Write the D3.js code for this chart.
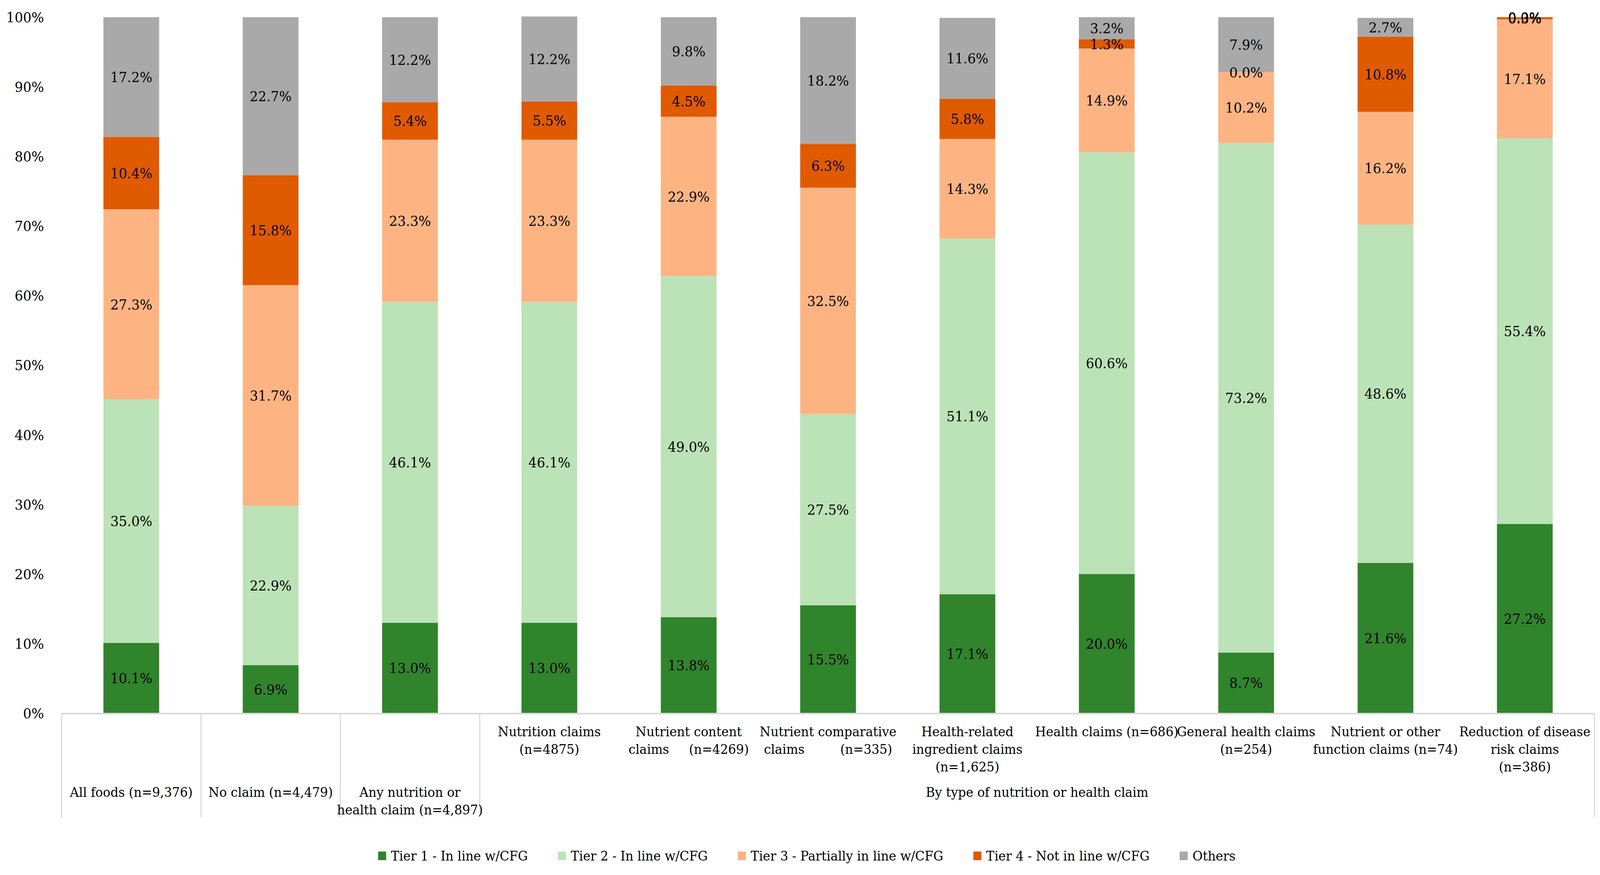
<!DOCTYPE html>
<html lang="en">
  <head>
    <meta charset="utf-8">
    <title>Tiers by claim type</title>
    <script src="https://cdn.jsdelivr.net/npm/d3@7"></script>
    <style>
      html, body { margin: 0; padding: 0; background: #fff; overflow: hidden; }
      svg { display: block; width: 100vw; height: 100vh; }
      text { font-family: "DejaVu Serif", serif; fill: #000; }
    </style>
  </head>
  <body>
    <script>

      // categories (lines of the lower axis label)
      var categories = ["all", "none", "any", "nutr", "content", "compar", "ingred", "health", "general", "function", "risk"];
      var catLines = [
        ["All foods (n=9,376)"],
        ["No claim (n=4,479)"],
        ["Any nutrition or", "health claim (n=4,897)"],
        ["Nutrition claims", "(n=4875)"],
        ["Nutrient content", "claims     (n=4269)"],
        ["Nutrient comparative", "claims         (n=335)"],
        ["Health-related", "ingredient claims", "(n=1,625)"],
        ["Health claims (n=686)"],
        ["General health claims", "(n=254)"],
        ["Nutrient or other", "function claims (n=74)"],
        ["Reduction of disease", "risk claims", "(n=386)"]
      ];
      var groupLabel = "By type of nutrition or health claim";

      var seriesNames = ["Tier 1 - In line w/CFG", "Tier 2 - In line w/CFG", "Tier 3 - Partially in line w/CFG", "Tier 4 - Not in line w/CFG", "Others"];
      var seriesColors = ["#30842b", "#bce2b7", "#feb482", "#e05a00", "#a9a9a9"];

      var tier1  = [10.1,  6.9, 13.0, 13.0, 13.8, 15.5, 17.1, 20.0,  8.7, 21.6, 27.2];
      var tier2  = [35.0, 22.9, 46.1, 46.1, 49.0, 27.5, 51.1, 60.6, 73.2, 48.6, 55.4];
      var tier3  = [27.3, 31.7, 23.3, 23.3, 22.9, 32.5, 14.3, 14.9, 10.2, 16.2, 17.1];
      var tier4  = [10.4, 15.8,  5.4,  5.5,  4.5,  6.3,  5.8,  1.3,  0.0, 10.8,  0.3];
      var others = [17.2, 22.7, 12.2, 12.2,  9.8, 18.2, 11.6,  3.2,  7.9,  2.7,  0.0];

      var yTicks = [0, 10, 20, 30, 40, 50, 60, 70, 80, 90, 100];

      var W = 4363, H = 2239;
      var plotL = 168, plotR = 4348, plotT = 44, plotB = 1825;

      var rows = categories.map(function(c, i) {
        return { cat: c, s0: tier1[i], s1: tier2[i], s2: tier3[i], s3: tier4[i], s4: others[i] };
      });
      var keys = ["s0", "s1", "s2", "s3", "s4"];
      var stacked = d3.stack().keys(keys)(rows);

      var svg = d3.select("body").append("svg")
                  .attr("viewBox", "0 0 " + W + " " + H)
                  .attr("preserveAspectRatio", "none");

      var x = d3.scaleBand().domain(categories).range([plotL, plotR])
                .paddingInner(0.6).paddingOuter(0.3);
      var y = d3.scaleLinear().domain([0, 100]).range([plotB, plotT]);

      // y tick labels
      svg.append("g").selectAll("text")
         .data(yTicks)
         .enter().append("text")
         .attr("x", 120)
         .attr("y", function(d) { return y(d); })
         .attr("dy", "0.36em")
         .attr("text-anchor", "end")
         .style("font-size", "36px")
         .text(function(d) { return d + "%"; });

      // bars
      var layer = svg.append("g").selectAll("g")
         .data(stacked)
         .enter().append("g")
         .style("fill", function(d, i) { return seriesColors[i]; });

      layer.selectAll("rect")
         .data(function(d) { return d; })
         .enter().append("rect")
         .attr("x", function(d) { return x(d.data.cat); })
         .attr("width", x.bandwidth())
         .attr("y", function(d) { return y(d[1]); })
         .attr("height", function(d) { return y(d[0]) - y(d[1]); });

      // value labels
      svg.append("g").selectAll("g")
         .data(stacked)
         .enter().append("g")
         .selectAll("text")
         .data(function(d) { return d.map(function(p) { return { p: p, key: d.key }; }); })
         .enter().append("text")
         .attr("x", function(d) { return x(d.p.data.cat) + x.bandwidth() / 2; })
         .attr("y", function(d) { return y((d.p[0] + d.p[1]) / 2); })
         .attr("dy", "0.36em")
         .attr("text-anchor", "middle")
         .style("font-size", "36px")
         .text(function(d) { return d.p.data[d.key].toFixed(1) + "%"; });

      // category axis
      var axisColor = "#d9d9d9";
      var sepBottom = 2092;
      svg.append("line")
         .attr("x1", plotL).attr("x2", plotR)
         .attr("y1", plotB + 1).attr("y2", plotB + 1)
         .style("stroke", axisColor).style("stroke-width", 4);

      var seps = [0, 1, 2, 3, 11];
      var step = x.step();
      svg.append("g").selectAll("line")
         .data(seps)
         .enter().append("line")
         .attr("x1", function(d) { return plotL + d * step; })
         .attr("x2", function(d) { return plotL + d * step; })
         .attr("y1", plotB).attr("y2", sepBottom)
         .style("stroke", axisColor).style("stroke-width", 3);

      var catG = svg.append("g").selectAll("text")
         .data(catLines)
         .enter().append("text")
         .attr("text-anchor", "middle")
         .style("font-size", "34px")
         .attr("xml:space", "preserve")
         .attr("transform", function(d, i) {
           var cx = x(categories[i]) + x.bandwidth() / 2;
           var cy = i < 3 ? 2027 : 1872;
           return "translate(" + cx + "," + cy + ")";
         });
      catG.selectAll("tspan")
         .data(function(d) { return d; })
         .enter().append("tspan")
         .attr("x", 0)
         .attr("y", function(d, j) { return j * 45; })
         .attr("dy", "0.36em")
         .style("white-space", "pre")
         .text(function(d) { return d; });

      svg.append("text")
         .attr("x", (plotL + 3 * step + plotR) / 2)
         .attr("y", 2027)
         .attr("dy", "0.36em")
         .attr("text-anchor", "middle")
         .style("font-size", "34px")
         .text(groupLabel);

      // legend
      var legend = svg.append("g");
      var items = legend.selectAll("g")
         .data(seriesNames)
         .enter().append("g");
      items.append("rect")
         .attr("width", 22).attr("height", 22)
         .attr("y", -11)
         .style("fill", function(d, i) { return seriesColors[i]; });
      items.append("text")
         .attr("x", 35)
         .attr("dy", "0.36em")
         .style("font-size", "34px")
         .text(function(d) { return d; });

      var pos = 0;
      items.each(function() {
        var g = d3.select(this);
        g.attr("transform", "translate(" + pos + ",0)");
        pos += 35 + g.select("text").node().getComputedTextLength() + 82;
      });
      var total = pos - 82;
      legend.attr("transform", "translate(" + (2200 - total / 2) + ",2190)");

    </script>
  </body>
</html>
